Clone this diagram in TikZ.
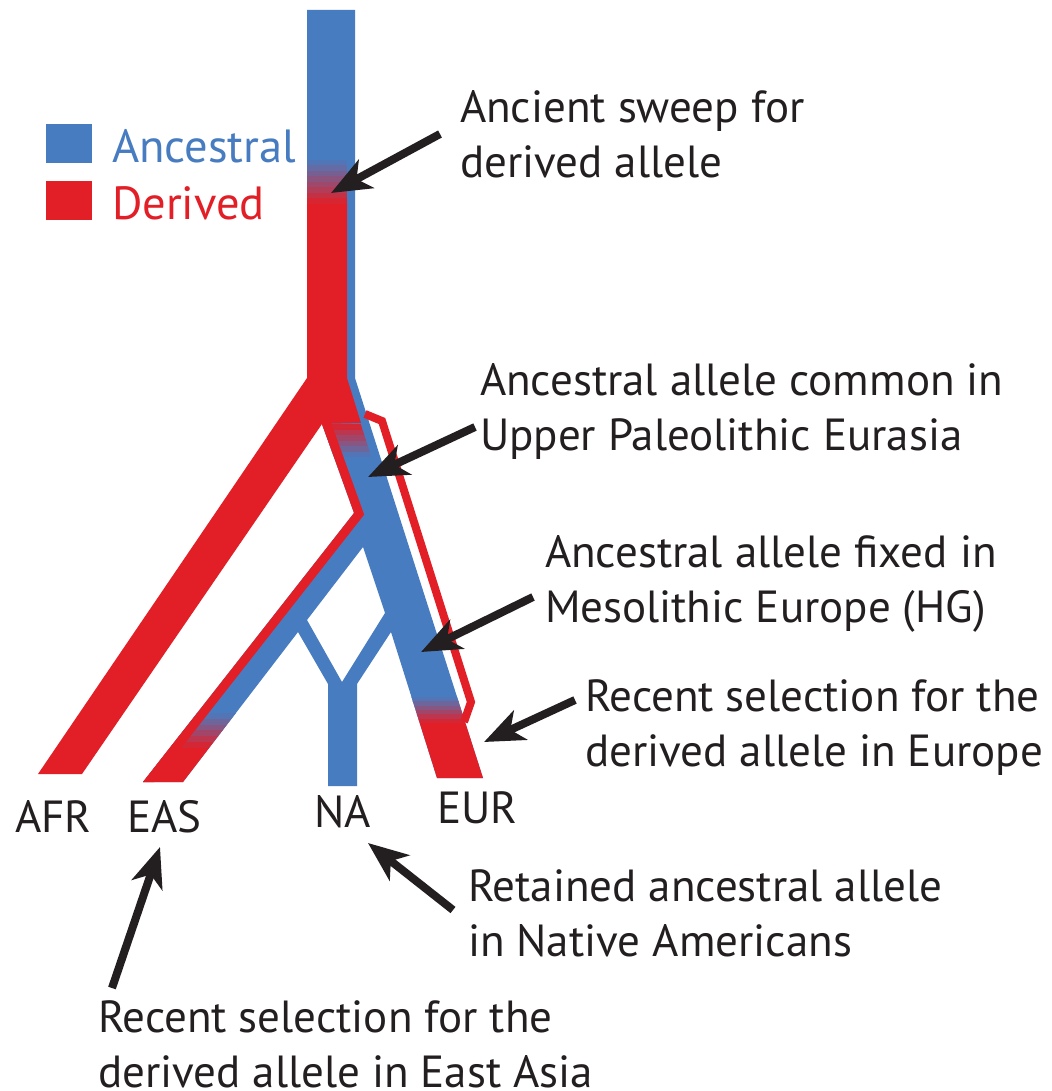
\documentclass[tikz,border=0pt]{standalone}
\usepackage{fontspec}
\setmainfont{PT Sans}
\usetikzlibrary{arrows.meta}
\definecolor{ancblue}{RGB}{72,124,193}
\definecolor{derred}{RGB}{226,31,39}
\definecolor{ink}{RGB}{35,31,32}
\begin{document}
\begin{tikzpicture}[x=1pt,y=-1pt,
  every node/.style={inner sep=0pt,outer sep=0pt},
  lab/.style={font=\fontsize{45}{55}\selectfont, text=ink, align=left, anchor=base west},
  leg/.style={font=\fontsize{46.5}{55}\selectfont, anchor=base west},
  arr/.style={draw=ink, line width=8pt, -{Stealth[length=40pt,width=32pt,inset=11pt]}}]
\useasboundingbox[fill=white] (0,0) rectangle (1051,1091);
\def\bodyout{(307,10) -- (355,10) -- (355,378) -- (483,778) -- (437,778) -- (391,632) -- (357,684) -- (357,786) -- (328,786) -- (328,684) -- (298,632) -- (183,782) -- (143,782) -- (354,513) -- (322,424) -- (307,378) -- cycle}
% blue body with diamond hole
\fill[ancblue, even odd rule] \bodyout (363,547) -- (307,620) -- (342,682) -- (385,613) -- cycle;
% red derived region: trunk, AFR, top of Eurasian branch
\fill[derred] (307,200) -- (347,200) -- (347,378) -- (361,423) -- (322,424) -- (82,774) -- (38,774) -- (307,378) -- cycle;
% trunk gradient
\foreach \i in {0,...,7} {
  \pgfmathtruncatemacro\p{(\i+0.5)*100/8}
  \fill[derred!\p!ancblue] (307,{160+\i*5.5}) rectangle (347,{160+(\i+1)*5.5+0.4});
}
% Eurasian gradient (red to blue)
\begin{scope}
  \clip (300,423) -- (360.4,423) -- (371.3,457) -- (300,457) -- cycle;
  \clip (322,424) -- (354,513) -- (420,513) -- (420,400) -- (322,400) -- cycle;
  \foreach \i in {0,...,5} {
    \pgfmathtruncatemacro\p{100-(\i+0.5)*100/6}
    \fill[derred!\p!ancblue] (300,{424+\i*5.5}) rectangle (400,{424+(\i+1)*5.5+0.4});
  }
\end{scope}
% bottoms of EAS and EUR
\begin{scope}
  \clip \bodyout;
  \foreach \i in {0,...,5} {
    \pgfmathtruncatemacro\p{(\i+0.5)*100/6}
    \fill[derred!\p!ancblue] (100,{713+\i*5.8}) rectangle (300,{713+(\i+1)*5.8+0.4});
    \fill[derred!\p!ancblue] (400,{697+\i*4.3}) rectangle (500,{697+(\i+1)*4.3+0.4});
  }
  \fill[derred] (100,748) rectangle (300,800);
  \fill[derred] (400,723) rectangle (500,800);
  \draw[derred, line width=18pt, line join=miter] (322,424) -- (354,513) -- (143,782);
\end{scope}
% red outline on the right
\draw[derred, line width=8pt, line join=miter] (365,414) -- (382,421) -- (471,702) -- (464,722);
% legend
\fill[ancblue] (46,124) rectangle (92,163);
\fill[derred] (46,181) rectangle (92,220);
\node[leg, text=ancblue] (lanc) at (112,163) {Ancestral};
\node[leg, text=derred] (lder) at (112,220) {Derived};
% population labels
\node[lab] (afr) at (15,832) {AFR};
\node[lab] (eas) at (127,832) {EAS};
\node[lab] (na) at (314,827) {NA};
\node[lab] (eur) at (437,823) {EUR};
% annotations (anchor at the baseline of the last line)
\node[lab] (n1) at (460,178) {Ancient sweep for\\derived allele};
\node[lab] (n2) at (480,450) {Ancestral allele common in\\Upper Paleolithic Eurasia};
\node[lab] (n3) at (545,622) {Ancestral allele fixed in\\Mesolithic Europe (HG)};
\node[lab] (n4) at (585,766) {Recent selection for the\\derived allele in Europe};
\node[lab] (n5) at (468,956) {Retained ancestral allele\\in Native Americans};
\node[lab] (n6) at (98,1087) {Recent selection for the\\derived allele in East Asia};
% arrows
\coordinate (a1) at (440,134); \coordinate (t1) at (331,193);
\coordinate (a2) at (475,427); \coordinate (t2) at (368,477);
\coordinate (a3) at (533,597); \coordinate (t3) at (421,652);
\coordinate (a4) at (575,700); \coordinate (t4) at (484,742);
\coordinate (a5) at (453,910); \coordinate (t5) at (368,843);
\coordinate (a6) at (112,988); \coordinate (t6) at (160,847);
\foreach \k in {1,...,6} { \draw[arr] (a\k) -- (t\k); }
\end{tikzpicture}
\end{document}
